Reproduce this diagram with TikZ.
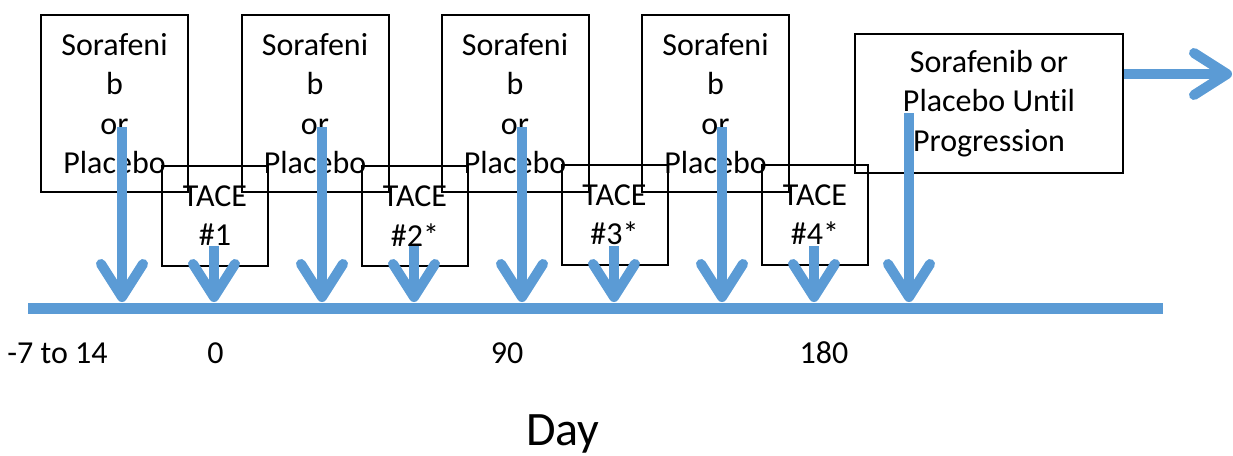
\documentclass[tikz,border=0pt]{standalone}
\usepackage{fontspec}
\setmainfont{Carlito}[RawFeature=-liga]
\usetikzlibrary{arrows.meta}
\definecolor{flowblue}{HTML}{5B9BD5}
\begin{document}
\begin{tikzpicture}[x=1pt,y=-1pt,
  box/.style={draw=black, line width=2pt, inner sep=0pt, align=center,
    font=\fontsize{32}{39.5}\selectfont},
  drug/.style={box, minimum width=147pt, minimum height=177pt},
  tacebox/.style={box, minimum width=106pt, minimum height=100pt},
  flow/.style={draw=flowblue, line width=10pt,
    -{Straight Barb[length=33pt,width=42pt,round]}},
  daylabel/.style={anchor=base, font=\fontsize{32}{36}\selectfont}]
\useasboundingbox (0,0) rectangle (1233,455);

% treatment boxes
\node[drug] (d1) at (114.5,103.5) {Sorafeni\\b\\or\\Placebo};
\node[drug] (d2) at (315,103.5) {Sorafeni\\b\\or\\Placebo};
\node[drug] (d3) at (515,103.5) {Sorafeni\\b\\or\\Placebo};
\node[drug] (d4) at (715.5,103.5) {Sorafeni\\b\\or\\Placebo};
\node[box, minimum width=268pt, minimum height=139pt] (d5) at (989,103.5)
  {Sorafenib or\\Placebo Until\\Progression};

% TACE boxes
\node[tacebox] (t1) at (215,215.5) {TACE\\\#1};
\node[tacebox] (t2) at (415,216) {TACE\\\#2*};
\node[tacebox] (t3) at (614.5,214.5) {TACE\\\#3*};
\node[tacebox] (t4) at (815,214.5) {TACE\\\#4*};

% time axis
\coordinate (axL) at (28,308);
\coordinate (axR) at (1163,308);
\draw[flowblue, line width=11pt] (axL) -- (axR);

% arrow start and end points
\foreach \n/\x/\y in {d1/122/127, d2/322/127, d3/522/127, d4/722/127,
                      d5/909/113, t1/214/246, t2/414/246, t3/614/246, t4/814/246}{
  \coordinate (\n s) at (\x,\y);
  \coordinate (\n e) at (\x,302);
}
\foreach \n in {d1,d2,d3,d4,d5,t1,t2,t3,t4}{
  \draw[flow] (\n s) -- (\n e);
}
\coordinate (cont) at (1232,74);
\draw[flow] (d5.east |- cont) -- (cont);

% day labels
\node[daylabel] (lab1) at (57.5,363) {-7 to 14};
\node[daylabel] (lab2) at (215.5,363) {0};
\node[daylabel] (lab3) at (507,363) {90};
\node[daylabel] (lab4) at (824,363) {180};
\node[anchor=base, font=\fontsize{48}{52}\selectfont] (day) at (563,445) {Day};
\end{tikzpicture}
\end{document}
